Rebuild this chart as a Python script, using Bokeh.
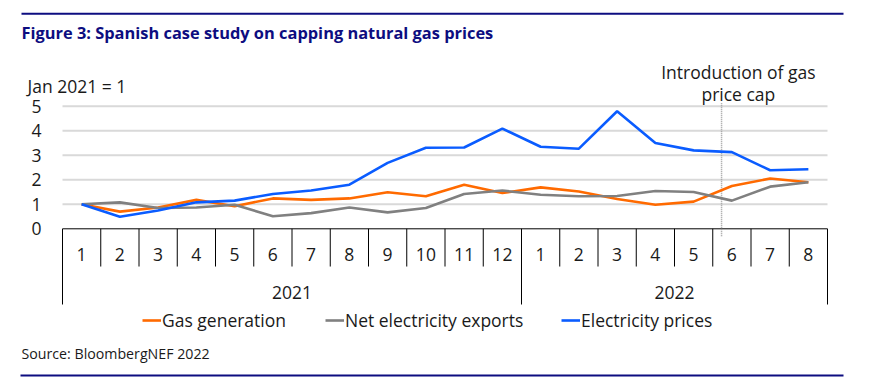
from bokeh.plotting import figure
from bokeh.models import (FactorRange, FixedTicker, Legend, LegendItem, Range1d)
from bokeh.embed import file_html
from bokeh.resources import INLINE

# ---------------- data ----------------
years = ["2021"] * 12 + ["2022"] * 8
months = ["1", "2", "3", "4", "5", "6", "7", "8", "9", "10", "11", "12",
          "1", "2", "3", "4", "5", "6", "7", "8"]
year_labels = ["2021", "2022"]
y_ticks = [0, 1, 2, 3, 4, 5]

gas_generation = [1.00, 0.70, 0.87, 1.18, 0.92, 1.24, 1.18, 1.24, 1.49, 1.33,
                  1.80, 1.46, 1.69, 1.52, 1.22, 0.98, 1.11, 1.75, 2.05, 1.90]
net_exports = [1.00, 1.08, 0.85, 0.87, 0.98, 0.51, 0.64, 0.87, 0.67, 0.85,
               1.42, 1.56, 1.39, 1.33, 1.34, 1.54, 1.50, 1.15, 1.72, 1.90]
elec_prices = [1.00, 0.49, 0.75, 1.08, 1.15, 1.42, 1.56, 1.80, 2.69, 3.31,
               3.32, 4.09, 3.35, 3.27, 4.80, 3.50, 3.20, 3.13, 2.39, 2.43]

cap_factor = ("2022", "6")
cap_text = ["Introduction of gas", "price cap"]

title_text = "Figure 3: Spanish case study on capping natural gas prices"
unit_text = "Jan 2021 = 1"
source_text = "Source: BloombergNEF 2022"

# ---------------- styling ----------------
FONT = "Open Sans"
FS = "17.5px"
TXT = "#1a1a1a"
NAVY = "#0d0d80"
ORANGE = "#ff6a00"
GREY = "#808080"
BLUE = "#0a5cff"

factors = list(zip(years, months))

W, H = 877, 385
FL, FR = 20, 869          # frame edges (page px)
CL, CR = 62, 827          # category area edges (page px)
PX = 24.5                 # px per data unit
Y0 = 228.3                # page px of y = 0
n = len(factors)
unit_w = (CR - CL) / n
half_pad = (CL - FL) / unit_w


def sx(px):
    """page px -> synthetic categorical x coordinate"""
    return (px - CL) / unit_w


p = figure(width=W, height=H, output_backend="svg", toolbar_location=None,
           x_range=FactorRange(factors=factors, factor_padding=0, group_padding=0,
                               subgroup_padding=0, range_padding=2 * half_pad / n,
                               range_padding_units="percent"),
           y_range=Range1d(Y0 / PX - H / PX, Y0 / PX),
           x_axis_location=None,
           min_border_left=FL, min_border_right=W - FR,
           min_border_top=0, min_border_bottom=0)
p.extra_y_ranges = {"page": Range1d(H, 0)}
p.outline_line_color = None
p.background_fill_color = "white"
p.border_fill_color = "white"
p.xgrid.grid_line_color = None
p.ygrid.grid_line_color = None

# y axis, fixed at the left edge of the category area
ax = p.yaxis[0]
ax.fixed_location = 0.0
ax.ticker = FixedTicker(ticks=y_ticks)
ax.axis_line_color = None
ax.major_tick_line_color = None
ax.minor_tick_line_color = None
ax.major_label_standoff = 15
ax.major_label_text_font = FONT
ax.major_label_text_font_size = FS
ax.major_label_text_color = TXT

first = (factors[0][0], factors[0][1], -0.5)
last = (factors[-1][0], factors[-1][1], 0.5)

# gridlines and zero line
grid_vals = [t for t in y_ticks if t > 0]
p.segment(x0=[first] * len(grid_vals), x1=[last] * len(grid_vals),
          y0=grid_vals, y1=grid_vals, line_color="#d9d9d9", line_width=2)
p.segment(x0=[first], x1=[last], y0=[0], y1=[0], line_color="black", line_width=1)

# category separators
sep_x, sep_y1 = [], []
for yr, mo in factors:
    sep_x.append((yr, mo, -0.5))
    sep_y1.append(-3.09 if mo == "1" else -1.54)
sep_x.append(last)
sep_y1.append(-3.09)
p.segment(x0=sep_x, y0=[0] * len(sep_x), x1=sep_x, y1=sep_y1,
          line_color="black", line_width=1)

# month and year labels
p.text(x=factors, y=[-1.05] * n, text=months,
       text_align="center", text_baseline="middle",
       text_font={"value": FONT}, text_font_size=FS, text_color=TXT)
p.text(x=year_labels, y=[-2.6] * len(year_labels), text=year_labels,
       text_align="center", text_baseline="middle",
       text_font={"value": FONT}, text_font_size=FS, text_color=TXT)

# price-cap marker
cx = (cap_factor[0], cap_factor[1], -0.27)
p.segment(x0=[cx], y0=[-0.3], x1=[cx], y1=[5.15], line_color="#9a9a9a",
          line_width=1.5, line_dash="1 1")
tx = (cap_factor[0], cap_factor[1], 0.17)
p.text(x=[tx, tx], y=[6.42, 5.52], text=cap_text, text_align="center",
       text_baseline="middle", text_font={"value": FONT}, text_font_size=FS,
       text_color=TXT)

# series
r_gas = p.line(x=factors, y=gas_generation, line_color=ORANGE, line_width=2.6)
r_net = p.line(x=factors, y=net_exports, line_color=GREY, line_width=2.6)
r_ele = p.line(x=factors, y=elec_prices, line_color=BLUE, line_width=2.6)

# legends, one per item
for r, lab, gx in [(r_gas, "Gas generation", 142), (r_net, "Net electricity exports", 325),
                   (r_ele, "Electricity prices", 561)]:
    lg = Legend(items=[LegendItem(label=lab, renderers=[r])],
                location=(gx - FL, H - 332), orientation="horizontal",
                glyph_width=19, glyph_height=16, label_standoff=1, padding=0, margin=0,
                border_line_color=None, background_fill_alpha=0,
                label_text_font=FONT, label_text_font_size=FS,
                label_text_color=TXT, label_height=20)
    p.add_layout(lg, "center")

# page decorations (x in synthetic category units, y in page px)
p.text(x=[sx(21)], y=[32], text=[title_text], y_range_name="page",
       text_align="left", text_baseline="middle", text_font={"value": FONT},
       text_font_style="bold", text_font_size="16.4px", text_color=NAVY)
p.text(x=[sx(27)], y=[85], text=[unit_text], y_range_name="page",
       text_align="left", text_baseline="middle", text_font={"value": FONT},
       text_font_size=FS, text_color=TXT)
p.text(x=[sx(21)], y=[353], text=[source_text], y_range_name="page",
       text_align="left", text_baseline="middle", text_font={"value": FONT},
       text_font_size="14.2px", text_color=TXT)
p.segment(x0=[sx(21), sx(19)], x1=[sx(843), sx(843)], y0=[13.3, 375], y1=[13.3, 375],
          y_range_name="page", line_color=NAVY, line_width=2)

open("out.html", "w").write(file_html(p, INLINE))
